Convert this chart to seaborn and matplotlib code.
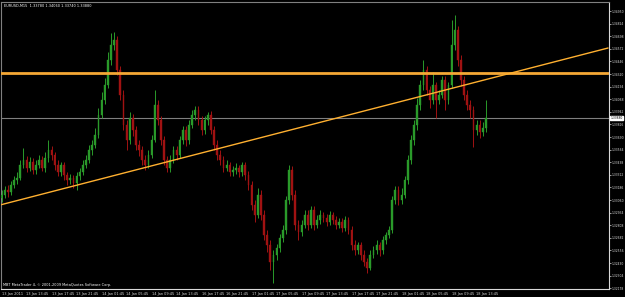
import numpy as np
import pandas as pd
import matplotlib
matplotlib.use("Agg")
import matplotlib.pyplot as plt
import seaborn as sns

# ---- data (EURUSD M15, prices in points of 0.0001) ----
first_open = 13308
close_pts = [13311,13316,13314,13321,13326,13328,13341,13346,13338,13344,
             13336,13341,13346,13338,13348,13356,13351,13341,13334,13341,
             13331,13326,13328,13323,13330,13334,13341,13346,13356,13361,
             13371,13391,13406,13421,13446,13461,13466,13436,13411,13381,
             13366,13388,13376,13361,13356,13346,13341,13351,13366,13401,
             13386,13366,13346,13338,13346,13356,13351,13366,13376,13366,
             13381,13391,13396,13386,13376,13386,13391,13376,13361,13351,
             13346,13338,13341,13334,13336,13338,13334,13341,13331,13321,
             13301,13291,13311,13291,13271,13261,13244,13251,13258,13268,
             13276,13306,13336,13311,13281,13274,13281,13291,13281,13296,
             13281,13286,13291,13288,13284,13291,13286,13281,13284,13278,
             13286,13276,13261,13256,13261,13251,13244,13238,13251,13256,
             13261,13256,13266,13271,13276,13306,13316,13306,13311,13326,
             13346,13366,13381,13401,13421,13436,13416,13406,13421,13406,
             13411,13426,13406,13421,13461,13476,13446,13426,13411,13401,
             13396,13376,13381,13374,13378,13388]
high_pts = [13316,13320,13321,13325,13330,13334,13346,13358,13350,13349,
            13348,13346,13351,13350,13354,13366,13360,13354,13346,13344,
            13344,13334,13332,13331,13334,13338,13346,13351,13361,13366,
            13378,13398,13414,13428,13454,13473,13474,13470,13440,13416,
            13386,13394,13392,13380,13366,13360,13351,13356,13371,13416,
            13406,13390,13370,13350,13351,13360,13360,13370,13380,13380,
            13386,13396,13400,13400,13390,13390,13394,13395,13380,13366,
            13356,13350,13346,13344,13340,13343,13341,13344,13344,13335,
            13325,13306,13318,13316,13296,13276,13266,13256,13262,13272,
            13281,13310,13341,13340,13316,13286,13286,13296,13296,13300,
            13300,13291,13296,13294,13292,13295,13294,13290,13288,13288,
            13290,13289,13280,13266,13264,13264,13256,13248,13256,13260,
            13266,13264,13270,13274,13280,13310,13320,13320,13318,13330,
            13351,13371,13386,13408,13426,13446,13440,13420,13434,13424,
            13416,13430,13430,13424,13486,13491,13480,13451,13430,13416,
            13406,13400,13386,13386,13384,13406]
low_pts = [13304,13308,13309,13311,13318,13322,13326,13338,13334,13335,
           13332,13332,13338,13335,13334,13344,13346,13336,13330,13330,
           13326,13321,13322,13318,13316,13326,13331,13338,13343,13351,
           13358,13368,13388,13402,13418,13441,13456,13431,13406,13376,
           13356,13362,13370,13356,13350,13341,13336,13338,13348,13364,
           13381,13361,13341,13334,13334,13343,13346,13348,13362,13360,
           13362,13378,13386,13381,13371,13372,13381,13372,13356,13346,
           13341,13334,13335,13330,13330,13332,13329,13330,13326,13316,
           13296,13284,13288,13286,13266,13254,13236,13223,13246,13254,
           13264,13272,13302,13306,13276,13266,13270,13278,13276,13278,
           13276,13278,13282,13284,13280,13281,13282,13277,13278,13274,
           13275,13272,13256,13251,13252,13246,13240,13233,13236,13248,
           13252,13250,13252,13262,13268,13273,13302,13301,13302,13308,
           13322,13342,13361,13376,13396,13416,13411,13398,13402,13388,
           13402,13408,13396,13402,13418,13456,13440,13420,13406,13396,
           13388,13359,13371,13368,13370,13374]

x_tick_labels = ["13 Jan 2011", "13 Jan 13:45", "13 Jan 17:45", "13 Jan 21:45",
                 "14 Jan 01:45", "14 Jan 05:45", "14 Jan 09:45", "14 Jan 13:45",
                 "16 Jan 17:45", "16 Jan 21:45", "17 Jan 01:45", "17 Jan 05:45",
                 "17 Jan 09:45", "17 Jan 13:45", "17 Jan 17:45", "17 Jan 21:45",
                 "18 Jan 01:45", "18 Jan 05:45", "18 Jan 09:45", "18 Jan 13:45"]
y_tick_values = [1.34950 - 0.00126 * k for k in range(23)]

resistance_level = 1.3433
trend_start = (-0.48, 1.3301)
trend_end = (194.1, 1.3458)

header = "EURUSD,M15  1.33780 1.34060 1.33740 1.33880"
footer = "MBT MetaTrader 4, \u00a9 2001-2009 MetaQuotes Software Corp."

# ---- frame ----
close = np.array(close_pts) / 10000
high = np.array(high_pts) / 10000
low = np.array(low_pts) / 10000
opn = np.concatenate([[first_open / 10000], close[:-1]])
df = pd.DataFrame({"i": np.arange(len(close)), "open": opn, "high": high,
                   "low": low, "close": close})
df["bull"] = df["close"] >= df["open"]

sns.set_style("dark", {"axes.facecolor": "black", "figure.facecolor": "black"})
plt.rcParams["font.family"] = ["DejaVu Sans"]

FS = 2.5
FSY = 2.15

fig = plt.figure(figsize=(6.25, 2.97), dpi=100)
fig.patch.set_facecolor("black")
ax = fig.add_axes([1 / 625, 8 / 297, 608 / 625, 287 / 297])
ax.set_facecolor("black")

green = "#2a9a2a"
red = "#a01212"
colors = np.where(df["bull"], green, red)

ax.vlines(df["i"], df["low"], df["high"], colors=colors, linewidth=0.7, zorder=3)
body_bottom = np.minimum(df["open"], df["close"])
body_h = np.maximum(np.abs(df["close"] - df["open"]), 0.00003)
ax.bar(df["i"], body_h, bottom=body_bottom, width=0.55, color=colors,
       edgecolor=colors, linewidth=0.3, zorder=4)

# current price line
ax.axhline(close[-1], color="#7f7f7f", linewidth=0.8, zorder=1)

# resistance and trend line
sns.lineplot(x=[-0.48, trend_end[0]], y=[resistance_level, resistance_level],
             ax=ax, color="#f5a835", linewidth=2.0, zorder=5)
sns.lineplot(x=[trend_start[0], trend_end[0]], y=[trend_start[1], trend_end[1]],
             ax=ax, color="#ffb030", linewidth=1.0, zorder=5)

ax.set_xlim(-0.16, 194.4)
ax.set_ylim(1.3217, 1.3504)

# axes styling
for s in ["left", "top"]:
    ax.spines[s].set_color("#808080")
    ax.spines[s].set_linewidth(0.8)
    ax.spines[s].set_visible(True)
for s in ["right", "bottom"]:
    ax.spines[s].set_color("#d8d8d8")
    ax.spines[s].set_linewidth(0.8)
    ax.spines[s].set_visible(True)

ax.yaxis.tick_right()
ax.set_yticks(y_tick_values)
ax.set_yticklabels([f"{v:.5f}" for v in y_tick_values])
ax.tick_params(axis="y", colors="#d8d8d8", labelsize=FSY, length=1.2, width=0.5,
               pad=0.5, labelcolor="#d8d8d8")
ax.set_xticks(np.arange(0, 8 * len(x_tick_labels), 8))
ax.set_xticklabels(x_tick_labels, ha="left")
ax.tick_params(axis="x", colors="#d8d8d8", labelsize=FS, length=1.5, width=0.5,
               pad=0.5, labelcolor="#d8d8d8")
ax.grid(False)
ax.set_xlabel("")
ax.set_ylabel("")

# current price box
ax.text(1.0025, close[-1], f"{close[-1]:.5f}", transform=ax.get_yaxis_transform(),
        fontsize=FSY, color="black", va="center", ha="left",
        bbox=dict(boxstyle="square,pad=0.1", fc="white", ec="white"),
        clip_on=False, zorder=10)

fig.text(4 / 625, 1 - 6 / 297, header, fontsize=FS, color="white", va="center", ha="left")
fig.text(3 / 625, 1 - 285 / 297, footer, fontsize=FS, color="white", va="center", ha="left")

fig.savefig("out.png", dpi=100, facecolor="black")
